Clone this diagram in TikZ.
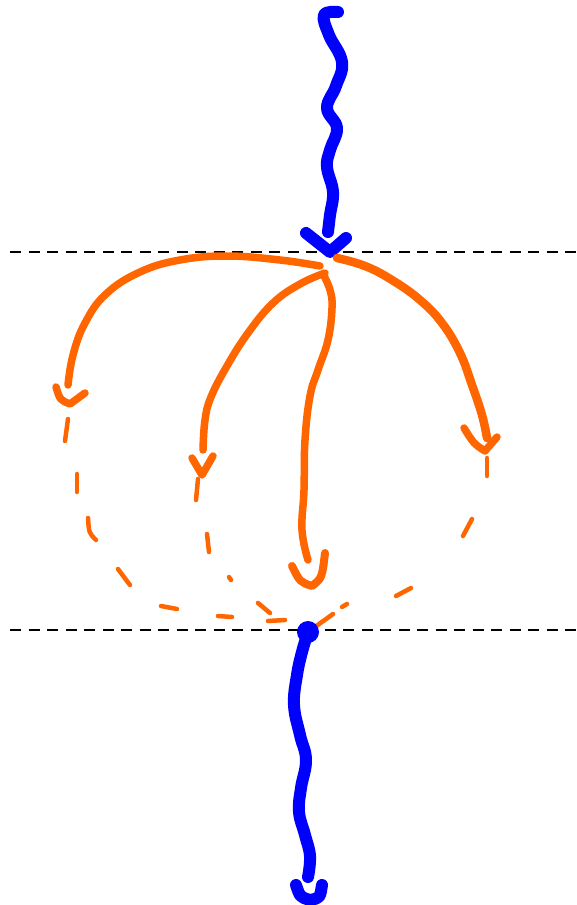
\documentclass[tikz,border=0pt]{standalone}
\begin{document}
\begin{tikzpicture}[x=1pt,y=-1pt,
  blueline/.style={draw=blue,line width=12pt,line cap=round,line join=round},
  orangeline/.style={draw=orng,line width=7.5pt,line cap=round,line join=round},
  orangedash/.style={draw=orng,line width=4.5pt,line cap=round},
  divider/.style={draw=black,line width=2.6pt,dash pattern=on 11pt off 7.5pt}]
\definecolor{orng}{RGB}{255,102,0}
\useasboundingbox (0,0) rectangle (576,905);
% named points
\coordinate (lineAleft) at (10,252);
\coordinate (lineAright) at (576,252);
\coordinate (lineBleft) at (10,630);
\coordinate (lineBright) at (576,630);
\coordinate (topstart) at (338,12);
\coordinate (src) at (330,252);
\coordinate (sink) at (308,632);
\coordinate (botend) at (310,900);
% dividers
\draw[divider] (lineAleft) -- (lineAright);
\draw[divider] (lineBleft) -- (lineBright);
% top blue wavy line
\draw[blueline] plot[smooth,tension=0.7] coordinates {(topstart) (324,15) (329,35) (342,62) (336,86) (327,108) (337,128) (330,150) (327,167) (333,192) (330,215) (328,232)};
\draw[blueline] (306,233) -- (src) -- (346,238);
% orange curves
\draw[orangeline] plot[smooth,tension=0.7] coordinates {(320,266) (280,260) (227,256) (180,260) (140,272) (106,294) (85,323) (73,355) (68,385)};
\draw[orangeline] (56,387) .. controls (60,400) .. (70,404) .. controls (78,398) .. (85,393);
\draw[orangeline] plot[smooth,tension=0.7] coordinates {(325,273) (300,284) (273,303) (248,333) (227,366) (211,397) (205,420) (203,450)};
\draw[orangeline] (192,458) -- (202,475) -- (213,456);
\draw[orangeline] plot[smooth,tension=0.7] coordinates {(323,274) (330,290) (332,308) (328,340) (318,370) (310,396) (305,440) (304,490) (302,530) (308,560)};
\draw[orangeline,line width=8pt] (292,566) .. controls (300,582) .. (312,586) .. controls (322,578) .. (325,553);
\draw[orangeline,line width=8.5pt] plot[smooth,tension=0.7] coordinates {(337,258) (365,266) (392,280) (420,300) (442,323) (460,353) (472,385) (482,415) (487,438)};
\draw[orangeline] (464,428) .. controls (474,444) .. (485,451) -- (497,437);
% dashed continuations, left
\draw[orangedash] (68,419) -- (65,441);
\draw[orangedash] (77,474) -- (77,492);
\draw[orangedash] (88,518) .. controls (89,533) .. (96,540);
\draw[orangedash] (118,569) -- (130,585);
\draw[orangedash] (161,606) -- (177,609);
\draw[orangedash] (218,616) -- (232,617);
\draw[orangedash] (268,621) -- (285,620);
% dashed continuations, second
\draw[orangedash] (198,479) -- (196,500);
\draw[orangedash] (207,534) -- (209,552);
\draw[orangedash] (229,577) -- (231,580);
\draw[orangedash] (258,603) -- (270,613);
% dashed continuations, right
\draw[orangedash] (487,458) -- (487,476);
\draw[orangedash] (472,519) -- (463,536);
\draw[orangedash] (411,588) -- (396,596);
\draw[orangedash] (347,604) -- (342,607);
\draw[orangedash] (333,614) -- (sink);
% bottom blue
\fill[blue] (sink) circle (11pt);
\draw[blueline] plot[smooth,tension=0.7] coordinates {(sink) (302,652) (297,675) (294,705) (300,735) (306,760) (301,788) (299,812) (305,835) (310,856) (308,877)};
\draw[blueline] (296,885) .. controls (300,897) .. (botend) .. controls (320,898) .. (322,885);
\end{tikzpicture}
\end{document}
